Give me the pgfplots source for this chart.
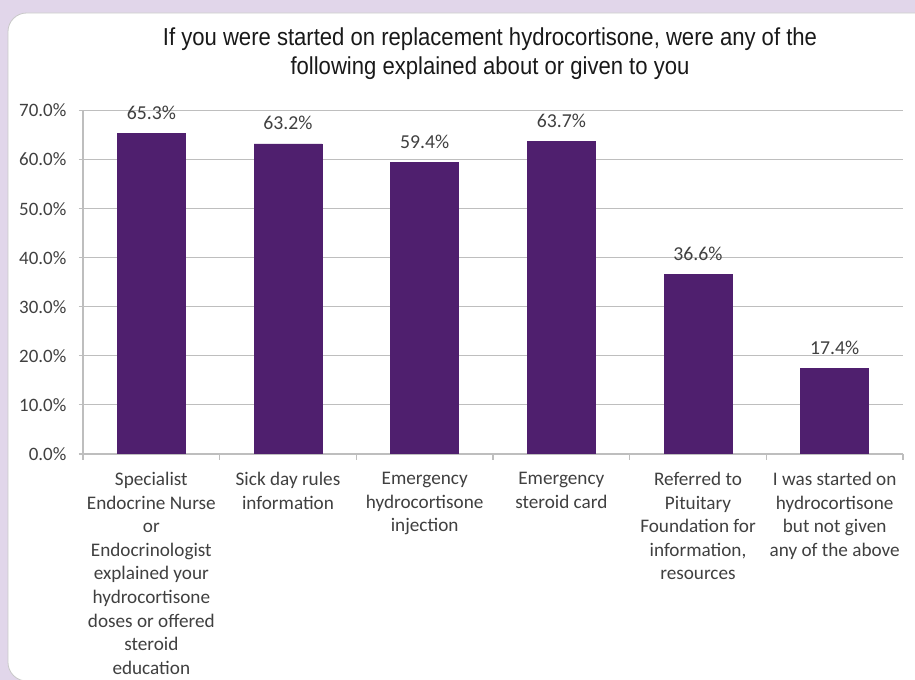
\documentclass[border=0pt]{standalone}
\usepackage{pgfplots}
\pgfplotsset{compat=1.18}
\usepackage{fontspec}
\setmainfont{Carlito}
\newfontfamily\titlefont[FakeStretch=0.9]{Liberation Sans}

\definecolor{lavender}{RGB}{225,214,234}
\definecolor{barpurple}{RGB}{79,31,110}
\definecolor{gridgray}{RGB}{190,190,190}
\definecolor{labelgray}{RGB}{64,64,64}
\definecolor{panelline}{RGB}{200,200,200}

\begin{document}
\begin{tikzpicture}[x=0.75pt,y=0.75pt]
  % page frame and white panel
  \useasboundingbox (0,0) rectangle (915,680);
  \clip (0,0) rectangle (915,680);
  \fill[lavender] (0,0) rectangle (915,680);
  \filldraw[fill=white, draw=panelline, line width=0.6pt, rounded corners=14pt]
    (8,-1) rectangle (940,667);

  % title
  \node[align=center, text=black!90, font=\titlefont\fontsize{18.4}{22}\selectfont]
    at (490,626) {If you were started on replacement hydrocortisone, were any of the\\following explained about or given to you};

  \begin{axis}[
    at={(62.25pt,169.5pt)}, anchor=south west,
    scale only axis,
    width=615pt, height=257.6pt,
    ybar, bar width=51pt,
    xmin=-0.5, xmax=5.5,
    ymin=0, ymax=70,
    ytick={0,10,...,70},
    xtick={0,...,5},
    minor xtick={-0.5,0.5,...,5.5},
    axis lines*=left,
    axis line style={-, draw=gridgray, line width=0.8pt},
    tick align=outside,
    major x tick style={draw=none},
    minor x tick style={draw=gridgray, line width=0.8pt},
    minor tick length=4.5pt,
    major tick length=3pt,
    y tick style={draw=gridgray, line width=0.8pt},
    ymajorgrids,
    grid style={draw=gridgray, line width=0.8pt},
    /pgf/number format/assume math mode=true,
    yticklabel={\pgfmathprintnumber[fixed,fixed zerofill,precision=1]{\tick}\%},
    yticklabel style={text=labelgray, xshift=-6pt, font=\fontsize{14.2}{17}\selectfont},
    xticklabels={
      {Specialist\\Endocrine Nurse\\or\\Endocrinologist\\explained your\\hydrocortisone\\doses or offered\\steroid\\education},
      {Sick day rules\\information},
      {Emergency\\hydrocortisone\\injection},
      {Emergency\\steroid card},
      {Referred to\\Pituitary\\Foundation for\\information,\\resources},
      {I was started on\\hydrocortisone\\but not given\\any of the above}},
    xticklabel style={align=center, anchor=north, inner sep=0pt, yshift=-10.5pt,
      text=labelgray, font=\fontsize{14.4}{17.7}\selectfont},
    nodes near coords={\pgfmathprintnumber[fixed,fixed zerofill,precision=1]{\pgfplotspointmeta}\%},
    nodes near coords style={anchor=base, inner sep=0pt, yshift=10.5pt,
      text=labelgray, font=\fontsize{14.8}{17}\selectfont},
  ]
    \addplot[fill=barpurple, draw=barpurple] coordinates {
      (0,65.3) (1,63.2) (2,59.4) (3,63.7) (4,36.6) (5,17.4)
    };
  \end{axis}
\end{tikzpicture}
\end{document}
